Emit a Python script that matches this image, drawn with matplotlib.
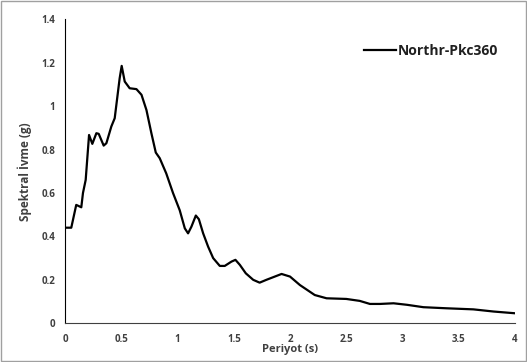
import numpy as np
import matplotlib
matplotlib.use('Agg')
import matplotlib.pyplot as plt
from matplotlib.patches import Rectangle

### values
period = [0.0, 0.056, 0.10, 0.145, 0.16, 0.184, 0.214, 0.243, 0.279, 0.30, 0.344, 0.368,
          0.412, 0.442, 0.486, 0.504, 0.531, 0.575, 0.635, 0.68, 0.724, 0.768, 0.807,
          0.842, 0.90, 0.96, 1.02, 1.065, 1.094, 1.124, 1.163, 1.19, 1.228, 1.272, 1.317,
          1.376, 1.42, 1.48, 1.515, 1.554, 1.607, 1.673, 1.73, 1.79, 1.925, 2.0, 2.088,
          2.22, 2.325, 2.50, 2.62, 2.71, 2.80, 2.92, 3.04, 3.185, 3.39, 3.63, 3.81, 4.0]
accel = [0.44, 0.44, 0.545, 0.534, 0.60, 0.66, 0.867, 0.826, 0.875, 0.872, 0.818, 0.829,
         0.906, 0.944, 1.128, 1.185, 1.113, 1.082, 1.078, 1.052, 0.982, 0.875, 0.786,
         0.760, 0.69, 0.60, 0.52, 0.437, 0.414, 0.445, 0.496, 0.479, 0.414, 0.353, 0.30,
         0.264, 0.264, 0.284, 0.292, 0.269, 0.230, 0.20, 0.187, 0.20, 0.227, 0.215, 0.176,
         0.130, 0.115, 0.112, 0.103, 0.089, 0.089, 0.092, 0.085, 0.074, 0.069, 0.064,
         0.054, 0.046]
series_name = 'Northr-Pkc360'
xticks = [0, 0.5, 1, 1.5, 2, 2.5, 3, 3.5, 4]
xtick_labels = ['0', '0.5', '1', '1.5', '2', '2.5', '3', '3.5', '4']
yticks = [0, 0.2, 0.4, 0.6, 0.8, 1.0, 1.2, 1.4]
ytick_labels = ['0', '0.2', '0.4', '0.6', '0.8', '1', '1.2', '1.4']

plt.rcParams['font.family'] = ['Open Sans', 'DejaVu Sans']

fig = plt.figure(figsize=(5.27, 3.62), dpi=100)
ax = fig.add_axes([0.1233, 0.107, 0.854, 0.840])

ax.plot(period, accel, color='black', lw=1.6, label=series_name)

ax.set_xlim(0, 4)
ax.set_ylim(0, 1.4)
ax.set_xticks(xticks)
ax.set_xticklabels(xtick_labels)
ax.set_yticks(yticks)
ax.set_yticklabels(ytick_labels)
ax.tick_params(axis='x', length=0, labelsize=7, labelcolor='#404040', pad=8)
ax.tick_params(axis='y', length=0, labelsize=7, labelcolor='#404040', pad=7)
for lab in ax.get_xticklabels() + ax.get_yticklabels():
    lab.set_fontweight('bold')

ax.spines['top'].set_visible(False)
ax.spines['right'].set_visible(False)
ax.spines['left'].set_color('black')
ax.spines['bottom'].set_color('#404040')

ax.set_xlabel('Periyot (s)', fontsize=8, fontweight='bold', color='#404040', labelpad=-1)
ax.set_ylabel('Spektral İvme (g)', fontsize=8.5, fontweight='bold', color='#404040', labelpad=7)

leg = ax.legend(loc='upper right', bbox_to_anchor=(0.99, 0.96), frameon=False,
                handlelength=2.3, handletextpad=0.1, prop={'size': 10, 'weight': 'bold'})
for t in leg.get_texts():
    t.set_color('#202020')

### thin grey frame round the whole picture
fig.patches.append(Rectangle((0.001, 0.002), 0.997, 0.995, transform=fig.transFigure,
                             fill=False, edgecolor='#a0a0a0', lw=1))

fig.savefig('out.png', dpi=100)
